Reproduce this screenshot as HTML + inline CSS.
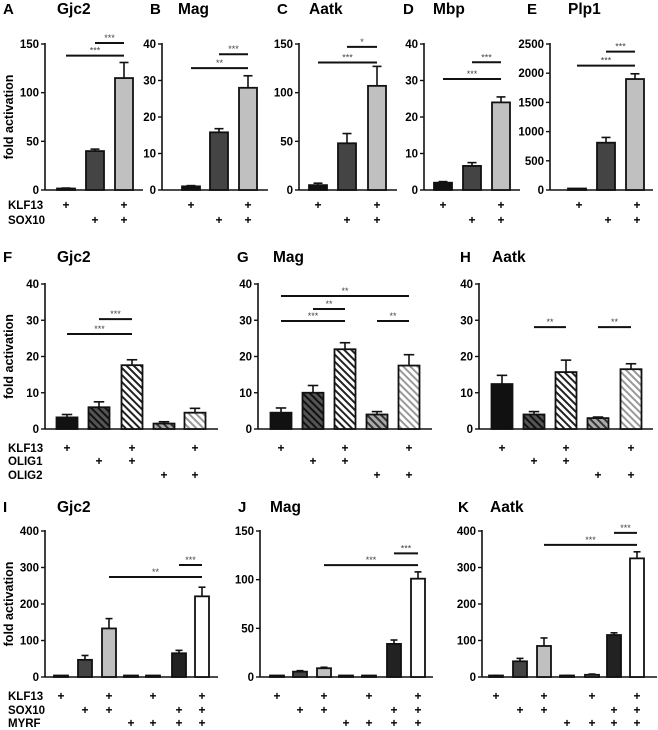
<!DOCTYPE html>
<html><head><meta charset="utf-8"><style>
html,body{margin:0;padding:0;background:#fff}
svg{display:block;font-family:"Liberation Sans",Arial,sans-serif}
</style></head><body>
<svg id="fig" width="658" height="730" viewBox="0 0 658 730" xmlns="http://www.w3.org/2000/svg">
<defs>
<pattern id="hDark" patternUnits="userSpaceOnUse" width="5" height="5" patternTransform="rotate(-45)"><rect width="5" height="5" fill="#555"/><rect width="2" height="5" fill="#111"/></pattern>
<pattern id="hWhite" patternUnits="userSpaceOnUse" width="5" height="5" patternTransform="rotate(-45)"><rect width="5" height="5" fill="#fff"/><rect width="2" height="5" fill="#222"/></pattern>
<pattern id="hGray" patternUnits="userSpaceOnUse" width="5" height="5" patternTransform="rotate(-45)"><rect width="5" height="5" fill="#aaa"/><rect width="2" height="5" fill="#333"/></pattern>
<pattern id="hLight" patternUnits="userSpaceOnUse" width="5" height="5" patternTransform="rotate(-45)"><rect width="5" height="5" fill="#fff"/><rect width="2" height="5" fill="#999"/></pattern>
</defs>
</svg>
<script>
// ---- data arrays ----
const valsA=[1.5,40,115], errA=[0.5,2,16], sigA=[[0,2,138,"***"],[1,2,151,"***"]];
const valsB=[1,15.8,28], errB=[0.2,1,3.3], sigB=[[0,2,33.4,"**"],[1,2,37.2,"***"]];
const valsC=[5,48,107], errC=[2,10,20], sigC=[[0,2,131,"***"],[1,2,147,"*"]];
const valsD=[2,6.6,24], errD=[0.3,0.9,1.5], sigD=[[0,2,30.4,"***"],[1,2,35,"***"]];
const valsE=[5,810,1900], errE=[3,90,90], sigE=[[0,2,2130,"***"],[1,2,2370,"***"]];
const valsF=[3.2,6,17.6,1.5,4.5], errF=[0.8,1.5,1.5,0.5,1.2], sigF=[[0,2,26.2,"***"],[1,2,30.3,"***"]];
const valsG=[4.5,10,22,4,17.5], errG=[1.3,2,1.8,0.8,3], sigG=[[0,4,36.7,"**"],[1,2,33.1,"**"],[0,2,29.8,"***"],[3,4,29.8,"**"]];
const valsH=[12.4,4,15.7,3,16.5], errH=[2.4,0.8,3.3,0.3,1.5], sigH=[[1,2,28.1,"**"],[3,4,28.1,"**"]];
const valsI=[1,47,133,0,2,65,221], errI=[1,12,27,0,1,8,25], sigI=[[2,6,274,"**"],[5,6,307,"***"]];
const valsJ=[0.5,5.5,9,0,0,34,101], errJ=[0.3,1,1,0,0,4,7], sigJ=[[2,6,115,"***"],[5,6,127,"***"]];
const valsK=[3,43,85,3,6,115,325], errK=[1,8,22,1,2,6,18], sigK=[[2,6,362,"***"],[5,6,395,"***"]];
const ticks1=[0,50,100,150], ticks2=[0,10,20,30,40], ticksE=[0,500,1000,1500,2000,2500], ticksI=[0,100,200,300,400];
const rows1=["KLF13","SOX10"], rows2=["KLF13","OLIG1","OLIG2"], rows3=["KLF13","SOX10","MYRF"];
const plus1=[[1,0,1],[0,1,1]];
const plus2=[[1,0,1,0,1],[0,1,1,0,0],[0,0,0,1,1]];
const plus3=[[1,0,1,0,1,0,1],[0,1,1,0,0,1,1],[0,0,0,1,1,1,1]];
// ---- rendering ----
const svg=document.getElementById('fig');const NS="http://www.w3.org/2000/svg";
function mk(t,a,p){const e=document.createElementNS(NS,t);for(const k in a)e.setAttribute(k,a[k]);(p||svg).appendChild(e);return e;}
function txt(s,a,p){const e=mk('text',a,p);e.textContent=s;return e;}
const fill1=["#111","#444","#c0c0c0"];
const fill2=["#111","url(#hDark)","url(#hWhite)","url(#hGray)","url(#hLight)"];
const fill3=["#111","#444","#c0c0c0","#888","#888","#222","#fff"];
function panel(o){
  const g=mk('g',{});
  
  
  const L=txt(o.letter,{x:o.lx,y:o.ty,'font-size':15,'font-weight':'bold'},g);
  
  const T=txt(o.title,{x:o.tx,y:o.ty,'font-size':15.5,'font-weight':'bold'},g);
  
  const ys=v=>o.y0-(v/o.max)*(o.y0-o.ytop);
  const ax=mk('line',{x1:o.ax,y1:o.ytop-1,x2:o.ax,y2:o.y0,stroke:'#111','stroke-width':1.6},g);
  
  const xa=mk('line',{x1:o.ax,y1:o.y0,x2:o.aend,y2:o.y0,stroke:'#111','stroke-width':1.6},g);
  
  o.ticks.forEach(t=>{
    const y=ys(t);
    const tl=mk('line',{x1:o.ax-4,y1:y,x2:o.ax,y2:y,stroke:'#111','stroke-width':1.4},g);
    
    const tt=txt(String(t),{x:o.ax-6,y:y+4,'font-size':11.5,'font-weight':'bold','text-anchor':'end'},g);
    
  });
  if(o.ylabel){
    const yl=txt('fold activation',{x:0,y:0,'font-size':12.5,'font-weight':'bold','text-anchor':'middle',transform:`translate(13,${(o.y0+o.ytop)/2}) rotate(-90)`},g);
    
  }
  o.vals.forEach((v,i)=>{
    const cx=o.xs[i],w=o.bw,y=ys(v),e=o.errs[i];
    if(e>0){
      const el=mk('line',{x1:cx,y1:y,x2:cx,y2:ys(v+e),stroke:'#111','stroke-width':1.6},g);
      
      const ec=mk('line',{x1:cx-w/4,y1:ys(v+e),x2:cx+w/4,y2:ys(v+e),stroke:'#111','stroke-width':1.6},g);
      
    }
    const h=Math.max(o.y0-y,1.5);
    const b=mk('rect',{x:cx-w/2,y:o.y0-h,width:w,height:h,fill:o.fills[i],stroke:'#111','stroke-width':1.8},g);
    
  });
  o.sig.forEach(s=>{
    const y=ys(s[2]);
    const sl=mk('line',{x1:o.xs[s[0]],y1:y,x2:o.xs[s[1]],y2:y,stroke:'#111','stroke-width':2},g);
    
    const st=txt(s[3],{x:(o.xs[s[0]]+o.xs[s[1]])/2,y:y-2,'font-size':9,'text-anchor':'middle',fill:'#444'},g);
    
  });
  o.plus.forEach((row,r)=>{
    const yy=o.py[r];
    if(o.ylabel){
      const rl=txt(o.rows[r],{x:8,y:yy,'font-size':11.5,'font-weight':'bold'},g);
      
    }
    row.forEach((p,i)=>{ if(p){
      const pt=txt('+',{x:o.xs[i]+(o.poff||0),y:yy,'font-size':12,'font-weight':'bold','text-anchor':'middle'},g);
      
    }});
  });
}
const r1={y0:190,ytop:44,ty:14,py:[209,224],plus:plus1,rows:rows1,fills:fill1,bw:18};
panel({...r1,letter:'A',title:'Gjc2',lx:3,tx:57,ax:45,aend:143,xs:[66,95,124],max:150,ticks:ticks1,vals:valsA,errs:errA,sig:sigA,ylabel:1});
panel({...r1,letter:'B',title:'Mag',lx:150,tx:178,ax:162,aend:268,xs:[191,219,248],max:40,ticks:ticks2,vals:valsB,errs:errB,sig:sigB});
panel({...r1,letter:'C',title:'Aatk',lx:277,tx:309,ax:299,aend:397,xs:[318,347,377],max:150,ticks:ticks1,vals:valsC,errs:errC,sig:sigC});
panel({...r1,letter:'D',title:'Mbp',lx:403,tx:433,ax:424,aend:520,xs:[443,472,501],max:40,ticks:ticks2,vals:valsD,errs:errD,sig:sigD});
panel({...r1,letter:'E',title:'Plp1',lx:527,tx:568,ax:550,aend:653,xs:[577,606,635],max:2500,ticks:ticksE,vals:valsE,errs:errE,sig:sigE,poff:2});
const r2={y0:429,ytop:284,ty:262,py:[452,465,479],plus:plus2,rows:rows2,fills:fill2,bw:21};
panel({...r2,letter:'F',title:'Gjc2',lx:3,tx:57,ax:45,aend:218,xs:[67,99,132,164,195],max:40,ticks:ticks2,vals:valsF,errs:errF,sig:sigF,ylabel:1});
panel({...r2,letter:'G',title:'Mag',lx:237,tx:273,ax:258,aend:432,xs:[281,313,345,377,409],max:40,ticks:ticks2,vals:valsG,errs:errG,sig:sigG});
panel({...r2,letter:'H',title:'Aatk',lx:460,tx:492,ax:479,aend:653,xs:[502,534,566,598,631],max:40,ticks:ticks2,vals:valsH,errs:errH,sig:sigH});
const r3={y0:677,ytop:531,ty:512,py:[700,714,727],plus:plus3,rows:rows3,fills:fill3,bw:14};
panel({...r3,letter:'I',title:'Gjc2',lx:3,tx:57,ax:45,aend:218,xs:[61,85,109,131,153,179,202],max:400,ticks:ticksI,vals:valsI,errs:errI,sig:sigI,ylabel:1});
panel({...r3,letter:'J',title:'Mag',lx:238,tx:270,ax:260,aend:433,xs:[277,300,324,346,369,394,418],max:150,ticks:ticks1,vals:valsJ,errs:errJ,sig:sigJ});
panel({...r3,letter:'K',title:'Aatk',lx:458,tx:490,ax:482,aend:657,xs:[496,520,544,567,592,614,637],max:400,ticks:ticksI,vals:valsK,errs:errK,sig:sigK});
</script>
</body></html>
